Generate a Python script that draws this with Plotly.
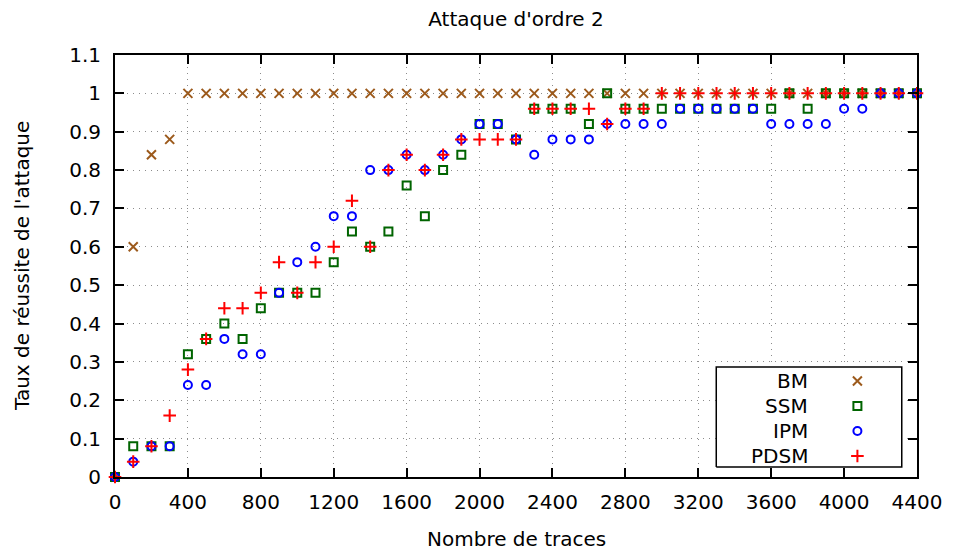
import plotly.graph_objects as go

traces_x = [0, 100, 200, 300, 400, 500, 600, 700, 800, 900,
            1000, 1100, 1200, 1300, 1400, 1500, 1600, 1700, 1800, 1900,
            2000, 2100, 2200, 2300, 2400, 2500, 2600, 2700, 2800, 2900,
            3000, 3100, 3200, 3300, 3400, 3500, 3600, 3700, 3800, 3900,
            4000, 4100, 4200, 4300, 4400]

bm = [0, 0.60, 0.84, 0.88, 1, 1, 1, 1, 1, 1,
      1, 1, 1, 1, 1, 1, 1, 1, 1, 1,
      1, 1, 1, 1, 1, 1, 1, 1, 1, 1,
      1, 1, 1, 1, 1, 1, 1, 1, 1, 1,
      1, 1, 1, 1, 1]

ssm = [0, 0.08, 0.08, 0.08, 0.32, 0.36, 0.40, 0.36, 0.44, 0.48,
       0.48, 0.48, 0.56, 0.64, 0.60, 0.64, 0.76, 0.68, 0.80, 0.84,
       0.92, 0.92, 0.88, 0.96, 0.96, 0.96, 0.92, 1.00, 0.96, 0.96,
       0.96, 0.96, 0.96, 0.96, 0.96, 0.96, 0.96, 1.00, 0.96, 1.00,
       1.00, 1.00, 1.00, 1.00, 1.00]

ipm = [0, 0.04, 0.08, 0.08, 0.24, 0.24, 0.36, 0.32, 0.32, 0.48,
       0.56, 0.60, 0.68, 0.68, 0.80, 0.80, 0.84, 0.80, 0.84, 0.88,
       0.92, 0.92, 0.88, 0.84, 0.88, 0.88, 0.88, 0.92, 0.92, 0.92,
       0.92, 0.96, 0.96, 0.96, 0.96, 0.96, 0.92, 0.92, 0.92, 0.92,
       0.96, 0.96, 1.00, 1.00, 1.00]

pdsm = [0, 0.04, 0.08, 0.16, 0.28, 0.36, 0.44, 0.44, 0.48, 0.56,
        0.48, 0.56, 0.60, 0.72, 0.60, 0.80, 0.84, 0.80, 0.84, 0.88,
        0.88, 0.88, 0.88, 0.96, 0.96, 0.96, 0.96, 0.92, 0.96, 0.96,
        1, 1, 1, 1, 1, 1, 1, 1, 1, 1,
        1, 1, 1, 1, 1]

series_names = ["BM", "SSM", "IPM", "PDSM"]
x_tick_vals = [0, 400, 800, 1200, 1600, 2000, 2400, 2800, 3200, 3600, 4000, 4400]
y_tick_vals = [0, 0.1, 0.2, 0.3, 0.4, 0.5, 0.6, 0.7, 0.8, 0.9, 1.0, 1.1]
y_tick_text = ["0", "0.1", "0.2", "0.3", "0.4", "0.5", "0.6", "0.7", "0.8", "0.9", "1", "1.1"]

styles = {
    "BM": dict(symbol="x-thin-open", color="#9c5a1c", size=9),
    "SSM": dict(symbol="square-open", color="#006400", size=8),
    "IPM": dict(symbol="circle-open", color="#0000ff", size=8),
    "PDSM": dict(symbol="cross-thin-open", color="#ff0000", size=9),
}

FONT = "DejaVu Sans"
fig = go.Figure()
for name, ys in zip(series_names, [bm, ssm, ipm, pdsm]):
    st = styles[name]
    fig.add_trace(go.Scatter(
        x=traces_x, y=ys, mode="markers", name=name, cliponaxis=False,
        marker=dict(symbol=st["symbol"], size=st["size"], color=st["color"],
                    line=dict(width=2, color=st["color"])),
        showlegend=False))

# custom gnuplot-style legend (box + right-aligned text + sample marker)
box = dict(x0=0.7497, x1=0.981, y0=0.0237, y1=0.2607)
fig.add_trace(go.Scatter(
    x=[box["x0"], box["x1"], box["x1"], box["x0"], box["x0"]],
    y=[box["y0"], box["y0"], box["y1"], box["y1"], box["y0"]],
    mode="lines", fill="toself", fillcolor="white",
    line=dict(color="black", width=1.5), xaxis="x2", yaxis="y2",
    hoverinfo="skip", showlegend=False))
row_y = [0.2275, 0.168, 0.109, 0.0498]
for name, ry in zip(series_names, row_y):
    st = styles[name]
    fig.add_trace(go.Scatter(
        x=[0.9257], y=[ry], mode="markers", xaxis="x2", yaxis="y2",
        marker=dict(symbol=st["symbol"], size=st["size"], color=st["color"],
                    line=dict(width=2, color=st["color"])),
        hoverinfo="skip", showlegend=False))
    fig.add_annotation(x=0.866, y=ry, xref="paper", yref="paper", text=name,
                       showarrow=False, xanchor="right", yanchor="middle",
                       font=dict(family=FONT, size=20, color="black"))

axis_common = dict(
    showline=True, linewidth=2, linecolor="black", mirror="allticks",
    ticks="inside", ticklen=9, tickwidth=1.5, tickcolor="black",
    showgrid=True, gridcolor="#8c8c8c", griddash="1px,5px", gridwidth=1,
    zeroline=False, tickfont=dict(family=FONT, size=20, color="black"),
)

fig.update_layout(
    width=946, height=545,
    margin=dict(l=107, r=32, t=47, b=76),
    paper_bgcolor="white", plot_bgcolor="white",
    title=dict(text="Attaque d'ordre 2", x=0.5, xref="paper", xanchor="center",
               y=1 - 11 / 545, yref="container", yanchor="middle",
               font=dict(family=FONT, size=20, color="black")),
    xaxis=dict(range=[0, 4400], tickvals=x_tick_vals, ticklabelstandoff=6, **axis_common),
    yaxis=dict(range=[0, 1.1], tickvals=y_tick_vals, ticktext=y_tick_text,
               ticklabelstandoff=8, **axis_common),
    xaxis2=dict(range=[0, 1], overlaying="x", visible=False, anchor="y2"),
    yaxis2=dict(range=[0, 1], overlaying="y", visible=False, anchor="x2"),
    showlegend=False,
)

fig.add_annotation(x=0.5, y=0, xref="paper", yref="paper", yshift=-62,
                   text="Nombre de traces", showarrow=False, yanchor="middle",
                   font=dict(family=FONT, size=20, color="black"))
fig.add_annotation(x=0, y=0.5, xref="paper", yref="paper", xshift=-93,
                   text="Taux de réussite de l'attaque", showarrow=False,
                   textangle=-90, xanchor="center", yanchor="middle",
                   font=dict(family=FONT, size=20, color="black"))

fig.write_html("out.html")
